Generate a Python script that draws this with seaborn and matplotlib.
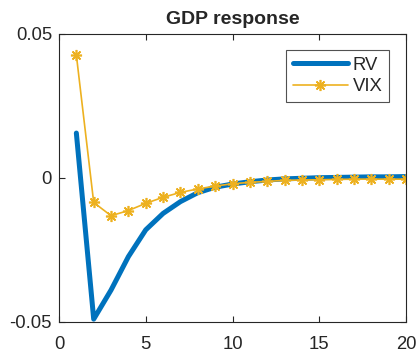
import pandas as pd
import seaborn as sns
import matplotlib.pyplot as plt

horizon = list(range(1, 21))
rv = [0.0156, -0.0490, -0.0389, -0.0273, -0.0180, -0.0123, -0.0082, -0.0051,
      -0.0032, -0.0021, -0.0013, -0.0007, -0.0003, -0.0001, 0.0001, 0.0002,
      0.0003, 0.0004, 0.0004, 0.0005]
vix = [0.0427, -0.0085, -0.0131, -0.0113, -0.0088, -0.0067, -0.0050, -0.0038,
       -0.0028, -0.0020, -0.0015, -0.0012, -0.0008, -0.0007, -0.0006, -0.0005,
       -0.0004, -0.0004, -0.0004, -0.0004]

df = pd.DataFrame({'h': horizon, 'RV': rv, 'VIX': vix})

sns.set_style('white')
plt.rcParams['font.family'] = ['Liberation Sans', 'DejaVu Sans']

fig = plt.figure(figsize=(4.17, 3.52), dpi=100)
ax = fig.add_axes([59 / 417, 1 - 322 / 352, 347 / 417, 288 / 352])

sns.lineplot(data=df, x='h', y='RV', ax=ax, color='#0072BD', linewidth=3.6, label='RV')
sns.lineplot(data=df, x='h', y='VIX', ax=ax, color='#EDB120', linewidth=1.2,
             marker=(8, 2, 0), markersize=8, markeredgecolor='#EDB120',
             markeredgewidth=1.2, label='VIX')

ax.set_xlim(0, 20)
ax.set_ylim(-0.05, 0.05)
ax.set_xticks([0, 5, 10, 15, 20])
ax.set_yticks([-0.05, 0, 0.05])
ax.set_yticklabels(['-0.05', '0', '0.05'])
ax.set_xlabel('')
ax.set_ylabel('')
ax.set_title('GDP response', fontsize=14, fontweight='bold', pad=7)
ax.tick_params(direction='in', length=4, width=0.8, labelsize=13.3, pad=5,
               top=True, right=True, bottom=True, left=True, colors='#262626')
ax.tick_params(axis='x', pad=10)
for s in ax.spines.values():
    s.set_color('#262626')
    s.set_linewidth(0.8)

leg = ax.legend(loc='upper right', bbox_to_anchor=(0.951, 0.944), borderaxespad=0,
                fontsize=13.3, frameon=True, fancybox=False, edgecolor='#262626',
                handlelength=3.0, borderpad=0.35, labelspacing=0.25, handletextpad=0.25)
leg.get_frame().set_linewidth(0.8)

fig.savefig('out.png', dpi=100)
